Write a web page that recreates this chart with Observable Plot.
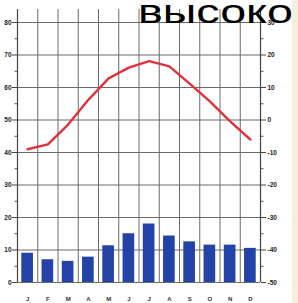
<!DOCTYPE html>
<html>
<head>
<meta charset="utf-8">
<script src="https://cdn.jsdelivr.net/npm/d3@7"></script>
<script src="https://cdn.jsdelivr.net/npm/@observablehq/plot@0.6"></script>
<style>
  html, body { margin: 0; padding: 0; background: #fff; overflow: hidden; }
  #wrap { position: relative; width: 298px; height: 303px; background: linear-gradient(to right, #fff 0, #fff 292px, #f8eedc 292px); }
</style>
</head>
<body>
<div id="wrap"></div>
<script>
const titleText = "высоко";
const months = ["J","F","M","A","M","J","J","A","S","O","N","D"];
const precip = [9, 7, 6.5, 7.8, 11.3, 15, 18, 14.3, 12.5, 11.5, 11.5, 10.5];
const temp = [-9, -7.5, -1.4, 6.2, 12.8, 16.1, 18.1, 16.5, 11.2, 5.7, -0.4, -6.0];
const precipTicks = [0, 10, 20, 30, 40, 50, 60, 70, 80];
const tempTicks = [-50, -40, -30, -20, -10, 0, 10, 20, 30];
const tempOffset = 50; // right axis aligned so that -50 °C sits on the 0 line

const data = months.map((m, i) => ({m: i + 1, label: m, p: precip[i], t: temp[i]}));
const tempAxisVals = tempTicks.map(t => t + tempOffset);
const minorVals = d3.range(5, 80, 10);

const plot = Plot.plot({
  width: 298,
  height: 303,
  marginLeft: 17,
  marginRight: 38,
  marginTop: 9,
  marginBottom: 21,
  style: {background: "transparent", fontFamily: "Liberation Sans, Arial, sans-serif"},
  x: {type: "linear", domain: [0.5, 12.5], label: null},
  y: {domain: [0, 84], label: null},
  marks: [
    Plot.gridY(precipTicks, {stroke: "#6a6a6a", strokeOpacity: 1, strokeWidth: 1}),
    Plot.gridX(d3.range(0.5, 13, 1), {stroke: "#6a6a6a", strokeOpacity: 1, strokeWidth: 1}),
    Plot.rectY(data, {x1: d => d.m - 0.5, x2: d => d.m + 0.5, y: "p", fill: "#2343a6", insetLeft: 4.3, insetRight: 4.3}),
    Plot.line(data, {x: "m", y: d => d.t + tempOffset, stroke: "#e0323e", strokeWidth: 2.4, curve: "linear"}),
    Plot.ruleX([0.5, 12.5], {stroke: "#444", strokeWidth: 1.2}),
    Plot.axisY(precipTicks, {anchor: "left", label: null, tickSize: 5, tickPadding: 1, fontSize: 6.5, fontWeight: "bold", fill: "#222", stroke: "#444"}),
    Plot.axisY(minorVals, {anchor: "left", label: null, tickSize: 2.5, text: null, stroke: "#555"}),
    Plot.axisY(tempAxisVals, {anchor: "right", label: null, tickSize: 5, tickPadding: 2, fontSize: 6.5, fontWeight: "bold", fill: "#222", stroke: "#444", tickFormat: d => String(d - tempOffset)}),
    Plot.axisY(minorVals, {anchor: "right", label: null, tickSize: 2.5, text: null, stroke: "#555"}),
    Plot.axisX(d3.range(1, 13), {anchor: "bottom", label: null, tickSize: 0, tickPadding: 14, fontSize: 6, fontWeight: "bold", fill: "#333", tickFormat: d => months[d - 1]})
  ]
});

const svg = d3.select(plot);
svg.append("text")
  .attr("x", 138)
  .attr("y", 23)
  .attr("text-anchor", "start")
  .attr("font-family", "Liberation Sans, Arial, sans-serif")
  .attr("font-size", 33)
  .attr("fill", "#000")
  .attr("textLength", 155)
  .attr("lengthAdjust", "spacingAndGlyphs")
  .text(titleText);

document.getElementById("wrap").appendChild(plot);
</script>
</body>
</html>
